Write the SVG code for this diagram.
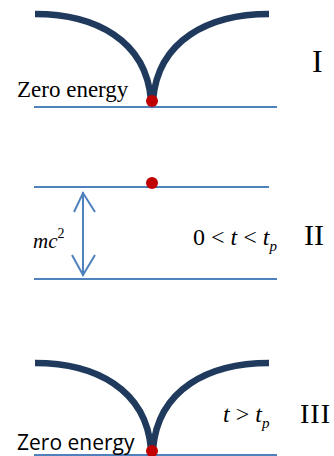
<svg xmlns="http://www.w3.org/2000/svg" width="334" height="456" viewBox="0 0 334 456">
<style>
.well{fill:none;stroke:#1f3a5c;stroke-width:6.5;stroke-linecap:butt}
.lvl{stroke:#4f81bd;stroke-width:2;fill:none}
.dot{fill:#c00000}
.serif{font-family:"Liberation Serif","Times New Roman",serif;fill:#000}
.sans{font-family:"Open Sans","Liberation Sans",sans-serif;fill:#000}
.it{font-style:italic}
</style>
<rect width="334" height="456" fill="#fff"/>
<g id="panel1">
<path class="well" d="M35,14 C95,14 146,40 151,100 M153,100 C158,40 209,14 269,14"/>
<line class="lvl" x1="34" y1="107" x2="277" y2="107"/>
<circle class="dot" cx="152" cy="101" r="6"/>
<text class="serif" x="17" y="97" font-size="23">Zero energy</text>
<text class="serif" x="312" y="72" font-size="32">I</text>
</g>
<g id="panel2">
<line class="lvl" x1="34" y1="187" x2="269" y2="187"/>
<line class="lvl" x1="34" y1="279" x2="277" y2="279"/>
<circle class="dot" cx="152" cy="183" r="6"/>
<g id="arrow" class="lvl">
<line x1="83" y1="192" x2="83" y2="276"/>
<polyline points="74,212 83,193 95,212"/>
<polyline points="72,255 83,275 95,255"/>
</g>
<text class="serif it" x="33" y="248" font-size="21">mc<tspan font-style="normal" font-size="14" dy="-10">2</tspan></text>
<text class="serif" x="193" y="245" font-size="24">0 &lt; <tspan font-style="italic">t</tspan> &lt; <tspan font-style="italic">t</tspan><tspan font-style="italic" font-size="15" dy="6">p</tspan></text>
<text class="serif" x="304" y="245" font-size="30">II</text>
</g>
<g id="panel3">
<path class="well" d="M35,363 C95,363 146,389 151,449 M153,449 C158,389 209,363 269,363"/>
<line class="lvl" x1="34" y1="455" x2="277" y2="455"/>
<circle class="dot" cx="152" cy="451" r="6"/>
<text class="sans" x="17" y="450" font-size="21">Zero energy</text>
<text class="serif" x="223" y="422" font-size="24"><tspan font-style="italic">t</tspan> &gt; <tspan font-style="italic">t</tspan><tspan font-style="italic" font-size="15" dy="6">p</tspan></text>
<text class="serif" x="300" y="423" font-size="28" letter-spacing="1">III</text>
</g>
</svg>
